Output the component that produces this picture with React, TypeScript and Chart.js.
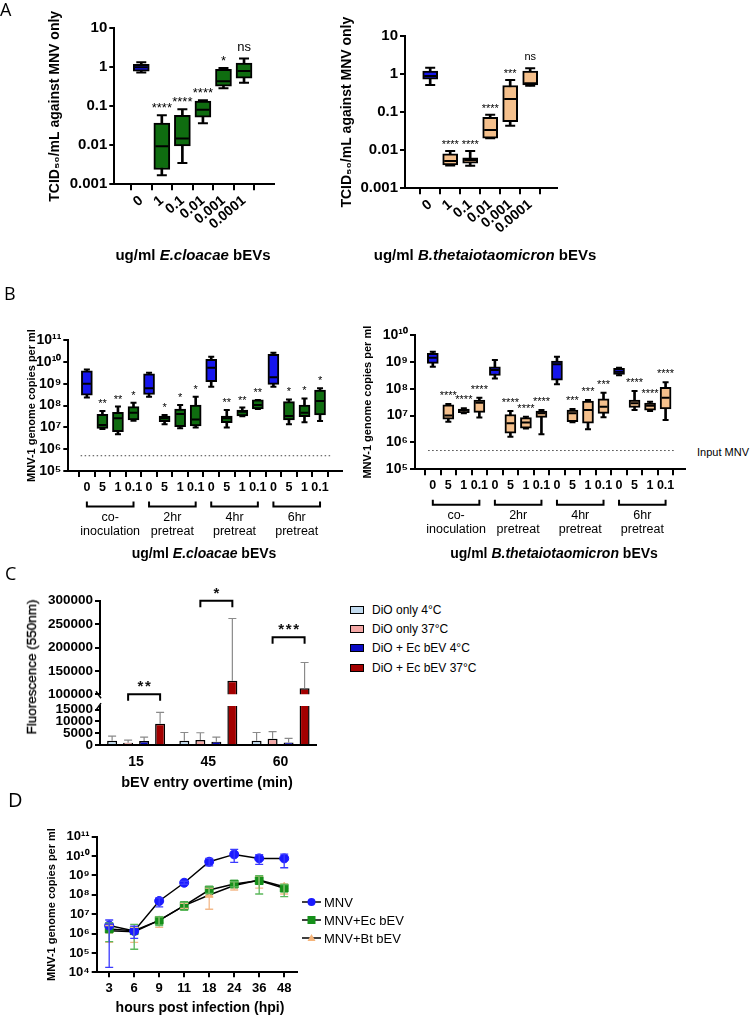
import React, { useEffect, useRef } from "react";
import { Chart, registerables } from "chart.js";

Chart.register(...registerables);

const FONT = "'Liberation Sans', Arial, Helvetica, sans-serif";
Chart.defaults.font.family = FONT;
Chart.defaults.color = "#000";

// ---------------- Panel A data ----------------
const aDoseLabels = ["0", "1", "0.1", "0.01", "0.001", "0.0001"];
const aTickValues = [0.001, 0.01, 0.1, 1, 10];
const aTickLabels = ["0.001", "0.01", "0.1", "1", "10"];

const aEcMin = [0.74, 0.0017, 0.0035, 0.037, 0.29, 0.4];
const aEcQ1 = [0.8, 0.0024, 0.0096, 0.053, 0.33, 0.53];
const aEcMed = [1.0, 0.0094, 0.0149, 0.082, 0.44, 0.8];
const aEcQ3 = [1.19, 0.037, 0.059, 0.137, 0.89, 1.29];
const aEcMax = [1.34, 0.059, 0.084, 0.143, 0.96, 1.67];
const aEcSig = ["", "****", "****", "****", "*", "ns"];

const aBtMin = [0.52, 0.004, 0.0039, 0.0206, 0.044, 0.49];
const aBtQ1 = [0.73, 0.0041, 0.0046, 0.0206, 0.056, 0.52];
const aBtMed = [0.89, 0.0052, 0.0055, 0.034, 0.22, 0.57];
const aBtQ3 = [1.2, 0.008, 0.0063, 0.073, 0.5, 1.2];
const aBtMax = [1.47, 0.0096, 0.0096, 0.085, 0.7, 1.42];
const aBtSig = ["", "****", "****", "****", "***", "ns"];

// ---------------- Panel B data ----------------
const bDoseLabels = ["0", "5", "1", "0.1", "0", "5", "1", "0.1", "0", "5", "1", "0.1", "0", "5", "1", "0.1"];
const bGroups = [["co-", "inoculation"], ["2hr", "pretreat"], ["4hr", "pretreat"], ["6hr", "pretreat"]];
const bInputMNV = 5e5;
const bLeftTickExp = [5, 6, 7, 8, 9, 10, 11];
const bRightTickExp = [5, 6, 7, 8, 9, 10];

const bEcMax = [4.5e9, 5.6e7, 8.9e7, 1.35e8, 3.2e9, 3.7e7, 1.05e8, 2.5e8, 1.7e10, 6.2e7, 8.0e7, 1.8e8, 2.6e10, 1.9e8, 2.1e8, 6.1e8];
const bEcQ3 = [3.9e9, 3.9e7, 4.9e7, 8.9e7, 2.8e9, 3.3e7, 6.9e7, 1.05e8, 1.3e10, 3.3e7, 6.2e7, 1.8e8, 2.2e10, 1.5e8, 1.05e8, 5.1e8];
const bEcMed = [1.0e9, 1.28e7, 2.6e7, 4.7e7, 6.1e8, 2.6e7, 4.1e7, 2.3e7, 5.4e9, 2.6e7, 5.2e7, 1.05e8, 1.95e9, 3.3e7, 4.7e7, 1.6e8];
const bEcQ1 = [3.0e8, 9.0e6, 6.3e6, 2.2e7, 3.2e8, 1.8e7, 1.07e7, 1.15e7, 1.24e9, 1.64e7, 3.3e7, 6.9e7, 9.3e8, 2.2e7, 3.1e7, 3.7e7];
const bEcMin = [2.3e8, 8.4e6, 4.8e6, 2.0e7, 2.5e8, 1.37e7, 9.0e6, 9.7e6, 7.3e8, 9.7e6, 3.2e7, 6.9e7, 7.3e8, 1.37e7, 1.7e7, 1.95e7];
const bEcSig = ["", "**", "**", "*", "", "*", "*", "*", "", "**", "**", "**", "", "*", "*", "*"];

const bBtMax = [2.4e9, 2.7e7, 1.86e7, 4.6e7, 1.17e9, 1.48e7, 9.1e6, 1.6e7, 1.56e9, 1.76e7, 3.8e7, 7.1e7, 6.1e8, 8.2e7, 3.3e7, 1.73e8];
const bBtQ3 = [2.1e9, 2.5e7, 1.76e7, 3.8e7, 6.6e8, 1.1e7, 8.4e6, 1.48e7, 1.08e9, 1.6e7, 3.5e7, 4.2e7, 5.7e8, 3.8e7, 2.9e7, 1.13e8];
const bBtMed = [1.43e9, 1.0e7, 1.53e7, 3.0e7, 5.0e8, 5.2e6, 5.5e6, 1.21e7, 8.1e8, 1.21e7, 1.6e7, 2.15e7, 4.3e8, 2.9e7, 2.3e7, 4.6e7];
const bBtQ1 = [8.8e8, 7.3e6, 1.29e7, 1.32e7, 3.1e8, 2.2e6, 3.4e6, 8.6e6, 2.1e8, 5.9e6, 5.2e6, 1.21e7, 3.4e8, 2.0e7, 1.6e7, 1.76e7];
const bBtMin = [6.6e8, 5.9e6, 1.21e7, 8.4e6, 2.4e8, 1.64e6, 3.3e6, 2.0e6, 1.46e8, 5.6e6, 3.1e6, 8.6e6, 3.2e8, 1.6e7, 1.48e7, 6.9e6];
const bBtSig = ["", "****", "****", "****", "", "****", "****", "****", "", "***", "***", "***", "", "****", "****", "****"];

// ---------------- Panel C data ----------------
const cTimes = ["15", "45", "60"];
const cSeries = ["DiO only 4°C", "DiO only 37°C", "DiO + Ec bEV 4°C", "DiO + Ec bEV 37°C"];
const cDio4 = [1800, 1800, 1800];
const cDio4Sd = [2000, 3500, 3500];
const cDio37 = [1000, 2100, 2600];
const cDio37Sd = [1100, 3100, 3100];
const cEc4 = [1700, 1400, 1100];
const cEc4Sd = [1600, 1900, 1700];
const cEc37 = [9000, 129000, 113000];
const cEc37Sd = [4800, 133000, 55000];
const cUpperTicks = [100000, 150000, 200000, 250000, 300000];
const cLowerTicks = [0, 5000, 10000, 15000];
const cSigText = ["**", "*", "***"];
const cSigLevel = [100000, 300000, 222000];

// ---------------- Panel D data ----------------
const dHours = ["3", "6", "9", "11", "18", "24", "36", "48"];
const dSeries = ["MNV", "MNV+Ec bEV", "MNV+Bt bEV"];
const dTickExp = [4, 5, 6, 7, 8, 9, 10, 11];
const dMnv = [2.6e6, 1.36e6, 4.8e7, 4.2e8, 5.1e9, 1.22e10, 7.6e9, 7.6e9];
const dMnvLo = [1.8e4, 5.7e5, 2.4e7, 3.5e8, 3.1e9, 4.7e9, 3.7e9, 2.5e9];
const dMnvHi = [5e6, 2.4e6, 7e7, 5e8, 7.6e9, 2.2e10, 1.2e10, 1.25e10];
const dEc = [1.72e6, 1.4e6, 4.8e6, 2.75e7, 1.77e8, 3.6e8, 5.4e8, 2.2e8];
const dEcLo = [3.8e5, 1.55e5, 2.6e6, 1.6e7, 1.2e8, 2.6e8, 1.1e8, 8e7];
const dEcHi = [3.6e6, 3e6, 7.5e6, 4.1e7, 2.6e8, 4.8e8, 9.8e8, 3.4e8];
const dBt = [1.4e6, 1.25e6, 4.8e6, 2.75e7, 9.8e7, 3.0e8, 5.8e8, 2.6e8];
const dBtLo = [3.5e5, 3.5e5, 2.1e6, 2.0e7, 1.8e7, 1.77e8, 2.2e8, 1.1e8];
const dBtHi = [2.6e6, 2.1e6, 7.5e6, 3.6e7, 2.2e8, 4.8e8, 9.5e8, 3.5e8];

// ---------------- styles ----------------
const BLUE = "#1616ee";
const GREEN = "#0f6d10";
const TAN = "#f5c08c";
const C_COLORS = ["#c3dbef", "#f3a7a5", "#0b0bc4", "#a30000"];

function sup(n: number) {
  const m = "⁰¹²³⁴⁵⁶⁷⁸⁹";
  return String(n).split("").map((c) => m[+c]).join("");
}
const powLabel = (e: number) => "10" + sup(e);

function frameLayout(f: any) {
  return {
    yAxisW: f.L - f.cl,
    padding: { left: 0, top: f.T - f.ct, right: f.cr - f.R, bottom: f.cb - f.B - f.xAxisH },
  };
}
const axisBorder = { display: true, color: "#000", width: 2 };
const tickGrid = (len: number) => ({ display: true, drawOnChartArea: false, drawTicks: true, tickLength: len, color: "#000", lineWidth: 2 });

function sigPlugin(labels: string[], tops: number[], font: string, off: number, nsOff: number) {
  return {
    id: "sig",
    afterDatasetsDraw(chart: any) {
      const { ctx, scales } = chart;
      ctx.save();
      ctx.font = font;
      ctx.fillStyle = "#000";
      ctx.textAlign = "center";
      ctx.textBaseline = "alphabetic";
      labels.forEach((t, i) => {
        if (!t) return;
        const px = scales.x.getPixelForValue(i);
        const py = scales.y.getPixelForValue(tops[i]) - (t === "ns" ? nsOff : off);
        ctx.fillText(t, px, py);
      });
      ctx.restore();
    },
  };
}

function groupPlugin(groups: string[][], font: string) {
  return {
    id: "groups",
    afterDraw(chart: any) {
      const { ctx, chartArea, scales } = chart;
      ctx.save();
      ctx.strokeStyle = "#000";
      ctx.lineWidth = 2;
      ctx.fillStyle = "#000";
      ctx.font = font;
      ctx.textAlign = "center";
      ctx.textBaseline = "middle";
      groups.forEach((g, k) => {
        const x1 = scales.x.getPixelForValue(4 * k);
        const x2 = scales.x.getPixelForValue(4 * k + 3);
        const y = chartArea.bottom + 35.5;
        ctx.beginPath();
        ctx.moveTo(x1, y - 5);
        ctx.lineTo(x1, y);
        ctx.lineTo(x2, y);
        ctx.lineTo(x2, y - 5);
        ctx.stroke();
        ctx.fillText(g[0], (x1 + x2) / 2, y + 11);
        ctx.fillText(g[1], (x1 + x2) / 2, y + 25);
      });
      ctx.restore();
    },
  };
}

function boxChartConfig(s: any) {
  const idx = s.med.map((_: number, i: number) => i);
  const lay = frameLayout(s.frame);
  const datasets: any[] = [
    {
      type: "line", data: idx.map((i: number) => ({ x: i, y: s.med[i] })), showLine: false,
      pointStyle: "line", pointRadius: s.boxW / 2 - 1.5, pointHoverRadius: s.boxW / 2 - 1.5,
      pointBorderWidth: 2, pointBorderColor: "#000", pointBackgroundColor: "#000", order: 0,
    },
    {
      type: "bar", data: idx.map((i: number) => ({ x: i, y: [s.q1[i], s.q3[i]] })),
      backgroundColor: s.colors, borderColor: "#000", borderWidth: 2, borderSkipped: false,
      grouped: false, barThickness: s.boxW, maxBarThickness: s.boxW, order: 1,
    },
    {
      type: "bar", data: idx.map((i: number) => ({ x: i, y: [s.min[i], s.max[i]] })),
      backgroundColor: "#000", borderWidth: 0, grouped: false, barThickness: 2, maxBarThickness: 2, order: 2,
    },
    {
      type: "line",
      data: [...idx.map((i: number) => ({ x: i, y: s.min[i] })), ...idx.map((i: number) => ({ x: i, y: s.max[i] }))],
      showLine: false, pointStyle: "line", pointRadius: s.capR, pointHoverRadius: s.capR,
      pointBorderWidth: 2, pointBorderColor: "#000", order: 2,
    },
  ];
  if (s.refLine) {
    datasets.push({
      type: "line", data: [{ x: s.refX[0], y: s.refLine }, { x: s.refX[1], y: s.refLine }],
      borderColor: "#444", borderWidth: 1, borderDash: [1.5, 2.5], pointRadius: 0, order: 3,
    });
  }
  const plugins: any[] = [sigPlugin(s.sig, s.max, s.sigFont, s.sigOff, s.nsOff)];
  if (s.groups) plugins.push(groupPlugin(s.groups, "12.5px " + FONT));
  return {
    type: "bar",
    data: { datasets },
    plugins,
    options: {
      responsive: true, maintainAspectRatio: false, animation: false, events: [],
      layout: { padding: lay.padding },
      plugins: { legend: { display: false }, tooltip: { enabled: false } },
      scales: {
        x: {
          type: "linear", min: s.xMin, max: s.xMax, bounds: "data",
          afterBuildTicks: (sc: any) => { sc.ticks = idx.map((i: number) => ({ value: i })); },
          afterFit: (sc: any) => { sc.height = s.frame.xAxisH; },
          ticks: {
            autoSkip: false, maxRotation: s.xRot, minRotation: s.xRot, padding: s.xPad,
            font: { size: s.xFont, weight: "bold" }, color: "#000",
            callback: (v: number) => s.xLabels[Math.round(v)],
          },
          grid: tickGrid(6), border: axisBorder,
        },
        y: {
          type: "logarithmic", min: s.yMin, max: s.yMax,
          afterBuildTicks: (sc: any) => { sc.ticks = s.yTicks.map((v: number) => ({ value: v })); },
          afterFit: (sc: any) => { sc.width = lay.yAxisW; },
          ticks: {
            autoSkip: false, padding: 2, font: { size: s.yFont, weight: "bold" }, color: "#000",
            callback: (_v: number, i: number) => s.yLabels[i],
          },
          grid: tickGrid(5), border: axisBorder,
          title: {
            display: true, text: s.yTitle, color: "#000",
            font: { size: s.yTitleSize, weight: "bold" }, padding: { top: s.yTitlePad, bottom: 0 },
          },
        },
      },
    },
  };
}

// ---------------- Panel C ----------------
const cMeans = [cDio4, cDio37, cEc4, cEc37];
const cSds = [cDio4Sd, cDio37Sd, cEc4Sd, cEc37Sd];

function cDatasets() {
  return cSeries.map((label, i) => ({
    type: "bar", label, data: cMeans[i], backgroundColor: C_COLORS[i], borderColor: "#000",
    borderWidth: 1.5, categoryPercentage: 0.886, barPercentage: 0.625,
  }));
}

const cErrPlugin = {
  id: "cerr",
  afterDatasetsDraw(chart: any) {
    const { ctx, chartArea: ca, scales } = chart;
    ctx.save();
    ctx.beginPath();
    ctx.rect(ca.left, ca.top - 1, ca.right - ca.left, ca.bottom - ca.top + 1);
    ctx.clip();
    ctx.strokeStyle = "#8a8a8a";
    ctx.lineWidth = 1.2;
    cMeans.forEach((vals, i) => {
      const meta = chart.getDatasetMeta(i);
      vals.forEach((v, j) => {
        const el = meta.data[j];
        const y0 = scales.y.getPixelForValue(v);
        const y1 = scales.y.getPixelForValue(v + cSds[i][j]);
        ctx.beginPath();
        ctx.moveTo(el.x, y0);
        ctx.lineTo(el.x, y1);
        ctx.moveTo(el.x - 4, y1);
        ctx.lineTo(el.x + 4, y1);
        ctx.stroke();
      });
    });
    ctx.restore();
  },
};

const cBracketPlugin = {
  id: "cbracket",
  afterDraw(chart: any) {
    const { ctx, scales, chartArea: ca } = chart;
    ctx.save();
    ctx.strokeStyle = "#000";
    ctx.lineWidth = 2;
    ctx.fillStyle = "#111";
    ctx.font = "bold 15px " + FONT;
    ctx.textAlign = "center";
    ctx.textBaseline = "middle";
    cSigText.forEach((t, k) => {
      const x1 = chart.getDatasetMeta(1).data[k].x;
      const x2 = chart.getDatasetMeta(3).data[k].x;
      const y = scales.y.getPixelForValue(cSigLevel[k]);
      ctx.beginPath();
      ctx.moveTo(x1, y + 6.5);
      ctx.lineTo(x1, y);
      ctx.lineTo(x2, y);
      ctx.lineTo(x2, y + 6.5);
      ctx.stroke();
      const chars = t.split("");
      const gap = 7.5;
      chars.forEach((c, n) => {
        ctx.fillText(c, (x1 + x2) / 2 + (n - (chars.length - 1) / 2) * gap, y - 7);
      });
    });
    // axis break mark
    ctx.lineWidth = 1.5;
    ctx.beginPath();
    ctx.moveTo(ca.left - 4, ca.bottom - 3);
    ctx.lineTo(ca.left + 1, ca.bottom + 4);
    ctx.stroke();
    ctx.restore();
  },
};

const cBreakLowerPlugin = {
  id: "cbreak",
  afterDraw(chart: any) {
    const { ctx, chartArea: ca } = chart;
    ctx.save();
    ctx.strokeStyle = "#000";
    ctx.lineWidth = 1.5;
    ctx.beginPath();
    ctx.moveTo(ca.left - 4, ca.top + 4);
    ctx.lineTo(ca.left + 1, ca.top - 3);
    ctx.stroke();
    ctx.restore();
  },
};

const cUpperFrame = { L: 100, T: 600.7, R: 316.7, B: 694.3, cl: 0, ct: 578, cr: 330, cb: 706.3, xAxisH: 0 };
const cLowerFrame = { L: 100, T: 706, R: 316.7, B: 745, cl: 0, ct: 696, cr: 330, cb: 775, xAxisH: 26 };

function cConfig(upper: boolean) {
  const f = upper ? cUpperFrame : cLowerFrame;
  const lay = frameLayout(f);
  const ticks = upper ? cUpperTicks : cLowerTicks;
  return {
    type: "bar",
    data: { labels: cTimes, datasets: cDatasets() },
    plugins: upper ? [cErrPlugin, cBracketPlugin] : [cErrPlugin, cBreakLowerPlugin],
    options: {
      responsive: true, maintainAspectRatio: false, animation: false, events: [],
      layout: { padding: lay.padding },
      plugins: { legend: { display: false }, tooltip: { enabled: false } },
      scales: {
        x: {
          type: "category", offset: true, display: !upper,
          afterFit: (sc: any) => { sc.height = f.xAxisH; },
          grid: { display: false, drawTicks: false }, border: axisBorder,
          ticks: { padding: 9, font: { size: 14, weight: "bold" }, color: "#000" },
        },
        y: {
          type: "linear", min: upper ? 100000 : 0, max: upper ? 300000 : 16500, bounds: "data",
          afterBuildTicks: (sc: any) => { sc.ticks = ticks.map((v) => ({ value: v })); },
          afterFit: (sc: any) => { sc.width = lay.yAxisW; },
          ticks: { autoSkip: false, padding: 2, font: { size: 13.5, weight: "bold" }, color: "#000", callback: (v: number) => String(v) },
          grid: tickGrid(5), border: axisBorder,
        },
      },
    },
  };
}

// ---------------- Panel D ----------------
const dFrame = { L: 96.7, T: 836.7, R: 296.7, B: 972.3, cl: 0, ct: 822, cr: 310, cb: 1000, xAxisH: 25 };
const dStyles = [
  { color: "#1a1aff", err: "#3b3bff", style: "circle", r: 4.5 },
  { color: "#15901a", err: "#5cb85c", style: "rect", r: 5.5 },
  { color: "#f5b47a", err: "#f3b98a", style: "triangle", r: 4.5 },
];
const dValues = [dMnv, dEc, dBt];
const dLows = [dMnvLo, dEcLo, dBtLo];
const dHighs = [dMnvHi, dEcHi, dBtHi];

const dErrPlugin = {
  id: "derr",
  afterDatasetsDraw(chart: any) {
    const { ctx, scales } = chart;
    ctx.save();
    ctx.lineWidth = 1.3;
    [2, 1, 0].forEach((k) => {
      const meta = chart.getDatasetMeta(k);
      ctx.strokeStyle = dStyles[k].err;
      meta.data.forEach((pt: any, j: number) => {
        const y1 = scales.y.getPixelForValue(dLows[k][j]);
        const y2 = scales.y.getPixelForValue(dHighs[k][j]);
        ctx.beginPath();
        ctx.moveTo(pt.x, y1);
        ctx.lineTo(pt.x, y2);
        ctx.moveTo(pt.x - 4, y1);
        ctx.lineTo(pt.x + 4, y1);
        ctx.moveTo(pt.x - 4, y2);
        ctx.lineTo(pt.x + 4, y2);
        ctx.stroke();
      });
    });
    ctx.restore();
  },
};

function dConfig() {
  const lay = frameLayout(dFrame);
  const yVals = dTickExp.map((e) => Math.pow(10, e));
  return {
    type: "line",
    data: {
      labels: dHours,
      datasets: dSeries.map((label, k) => ({
        label, data: dValues[k], borderColor: "#000", borderWidth: 1.5,
        pointStyle: dStyles[k].style, pointRadius: dStyles[k].r, pointHoverRadius: dStyles[k].r,
        pointBackgroundColor: dStyles[k].color, pointBorderColor: dStyles[k].color, pointBorderWidth: 1,
        order: k,
      })),
    },
    plugins: [dErrPlugin],
    options: {
      responsive: true, maintainAspectRatio: false, animation: false, events: [],
      layout: { padding: lay.padding },
      plugins: { legend: { display: false }, tooltip: { enabled: false } },
      scales: {
        x: {
          type: "category", offset: true,
          afterFit: (sc: any) => { sc.height = dFrame.xAxisH; },
          grid: tickGrid(5), border: axisBorder,
          ticks: { padding: 3, autoSkip: false, maxRotation: 0, font: { size: 13, weight: "bold" }, color: "#000" },
        },
        y: {
          type: "logarithmic", min: 1e4, max: 1e11,
          afterBuildTicks: (sc: any) => { sc.ticks = yVals.map((v) => ({ value: v })); },
          afterFit: (sc: any) => { sc.width = lay.yAxisW; },
          ticks: { autoSkip: false, padding: 2, font: { size: 13, weight: "bold" }, color: "#000", callback: (_v: number, i: number) => powLabel(dTickExp[i]) },
          grid: tickGrid(5), border: axisBorder,
          title: { display: true, text: "MNV-1 genome copies per ml", color: "#000", font: { size: 11, weight: "bold" }, padding: { top: 45.1, bottom: 0 } },
        },
      },
    },
  };
}

// ---------------- components ----------------
function ChartCanvas({ frame, config }: any) {
  const ref = useRef<HTMLCanvasElement>(null);
  useEffect(() => {
    const chart = new Chart(ref.current as HTMLCanvasElement, config());
    return () => chart.destroy();
  }, []);
  return (
    <div style={{ position: "absolute", left: frame.cl, top: frame.ct, width: frame.cr - frame.cl, height: frame.cb - frame.ct }}>
      <canvas ref={ref} />
    </div>
  );
}

function Txt({ cx, cy, size, bold, children, align = "center" }: any) {
  const w = 400;
  const left = align === "center" ? cx - w / 2 : cx;
  return (
    <div style={{ position: "absolute", left, top: cy - 10, width: w, height: 20, lineHeight: "20px", fontSize: size, fontWeight: bold ? 700 : 400, textAlign: align, whiteSpace: "nowrap" }}>
      {children}
    </div>
  );
}

const aLeftFrame = { L: 114.3, T: 28.3, R: 274, B: 184.3, cl: 0, ct: 0, cr: 288, cb: 248, xAxisH: 60 };
const aRightFrame = { L: 405, T: 36, R: 557.3, B: 188.3, cl: 292, ct: 0, cr: 571, cb: 252, xAxisH: 60 };
const bLeftFrame = { L: 68.3, T: 340, R: 341.7, B: 471, cl: 0, ct: 310, cr: 350, cb: 548, xAxisH: 72 };
const bRightFrame = { L: 415, T: 335, R: 685, B: 469.3, cl: 353, ct: 305, cr: 693, cb: 546, xAxisH: 72 };

const aCommon = {
  xLabels: aDoseLabels, yMin: 0.001, yMax: 10, yTicks: aTickValues, yLabels: aTickLabels,
  boxW: 16, capR: 5, yTitle: "TCID₅₀/mL against MNV only", yTitleSize: 14, yTitlePad: 46.6,
  xRot: 40, xPad: 2, xFont: 14, yFont: 15, sigFont: "13px " + FONT, sigOff: 3, nsOff: 8,
};

const bColors = (c: string) => bDoseLabels.map((_, i) => (i % 4 === 0 ? BLUE : c));

const configs = {
  aLeft: () => boxChartConfig({
    ...aCommon, frame: aLeftFrame, xMin: -0.665, xMax: 5.811,
    min: aEcMin, q1: aEcQ1, med: aEcMed, q3: aEcQ3, max: aEcMax, sig: aEcSig,
    colors: aDoseLabels.map((_, i) => (i === 0 ? BLUE : GREEN)),
  }),
  aRight: () => boxChartConfig({
    ...aCommon, frame: aRightFrame, xMin: -0.625, xMax: 5.721, boxW: 15, yTitlePad: 46.6,
    sigFont: "11px " + FONT,
    min: aBtMin, q1: aBtQ1, med: aBtMed, q3: aBtQ3, max: aBtMax, sig: aBtSig,
    colors: aDoseLabels.map((_, i) => (i === 0 ? BLUE : TAN)),
  }),
  bLeft: () => boxChartConfig({
    frame: bLeftFrame, xLabels: bDoseLabels, xMin: -0.645, xMax: 15.844,
    yMin: 1e5, yMax: 1e11, yTicks: bLeftTickExp.map((e) => Math.pow(10, e)), yLabels: bLeftTickExp.map(powLabel),
    boxW: 11, capR: 3, yTitle: "MNV-1 genome copies per ml", yTitleSize: 11, yTitlePad: 25.4,
    xRot: 0, xPad: 3, xFont: 12.5, yFont: 14, sigFont: "11px " + FONT, sigOff: 4, nsOff: 6,
    min: bEcMin, q1: bEcQ1, med: bEcMed, q3: bEcQ3, max: bEcMax, sig: bEcSig, colors: bColors(GREEN),
    refLine: bInputMNV, refX: [-0.4, 15.7], groups: bGroups,
  }),
  bRight: () => boxChartConfig({
    frame: bRightFrame, xLabels: bDoseLabels, xMin: -0.604, xMax: 15.707,
    yMin: 1e5, yMax: 1e10, yTicks: bRightTickExp.map((e) => Math.pow(10, e)), yLabels: bRightTickExp.map(powLabel),
    boxW: 11, capR: 3, yTitle: "MNV-1 genome copies per ml", yTitleSize: 11, yTitlePad: 8.4,
    xRot: 0, xPad: 3, xFont: 12.5, yFont: 14, sigFont: "11px " + FONT, sigOff: 5, nsOff: 6,
    min: bBtMin, q1: bBtQ1, med: bBtMed, q3: bBtQ3, max: bBtMax, sig: bBtSig, colors: bColors(TAN),
    refLine: bInputMNV, refX: [-0.3, 15.6], groups: bGroups,
  }),
};

const letterStyle = (left: number, top: number, size: number): any => ({
  position: "absolute", left, top, fontSize: size, lineHeight: "20px", fontFamily: "'Open Sans', 'Liberation Sans', sans-serif",
});

export default function App() {
  return (
    <div style={{ position: "absolute", left: 0, top: 0, width: 750, height: 1015, background: "#fff", fontFamily: FONT, color: "#000", overflow: "hidden" }}>
      <ChartCanvas frame={aLeftFrame} config={configs.aLeft} />
      <ChartCanvas frame={aRightFrame} config={configs.aRight} />
      <Txt cx={193} cy={255} size={15} bold>ug/ml <i>E.cloacae</i> bEVs</Txt>
      <Txt cx={485} cy={255} size={15} bold>ug/ml <i>B.thetaiotaomicron</i> bEVs</Txt>

      <ChartCanvas frame={bLeftFrame} config={configs.bLeft} />
      <ChartCanvas frame={bRightFrame} config={configs.bRight} />
      <Txt cx={697} cy={451.7} size={11} align="left">Input MNV</Txt>
      <Txt cx={204} cy={553} size={14} bold>ug/ml <i>E.cloacae</i> bEVs</Txt>
      <Txt cx={554} cy={553} size={14} bold>ug/ml <i>B.thetaiotaomicron</i> bEVs</Txt>

      <ChartCanvas frame={cLowerFrame} config={() => cConfig(false)} />
      <ChartCanvas frame={cUpperFrame} config={() => cConfig(true)} />
      <div style={{ position: "absolute", left: 31.7, top: 666.7, transform: "translate(-50%, -50%) rotate(-90deg)", whiteSpace: "nowrap", fontSize: 13.5, lineHeight: "16px", color: "#000", WebkitTextStroke: "0.35px #000" }}>
        Fluorescence (550nm)
      </div>
      <Txt cx={207} cy={781.7} size={14.5} bold>bEV entry overtime (min)</Txt>
      {cSeries.map((s, i) => (
        <div key={s} style={{ position: "absolute", left: 350, top: 603 + i * 19.2, height: 14, display: "flex", alignItems: "center", fontSize: 12, whiteSpace: "nowrap" }}>
          <span style={{ display: "inline-block", width: 12, height: 6, border: "1.5px solid #000", background: C_COLORS[i], marginRight: 8 }} />
          <span>{s}</span>
        </div>
      ))}

      <ChartCanvas frame={dFrame} config={dConfig} />
      <Txt cx={200} cy={1006.7} size={14} bold>hours post infection (hpi)</Txt>
      {dSeries.map((s, k) => (
        <div key={s} style={{ position: "absolute", left: 302, top: 895 + k * 18, height: 14, display: "flex", alignItems: "center", fontSize: 13, whiteSpace: "nowrap" }}>
          <svg width="19" height="12" style={{ marginRight: 3 }}>
            <line x1="0" y1="6" x2="19" y2="6" stroke="#000" strokeWidth="1.5" />
            {k === 0 && <circle cx="9.5" cy="6" r="4" fill={dStyles[0].color} />}
            {k === 1 && <rect x="5.5" y="2" width="8" height="8" fill={dStyles[1].color} />}
            {k === 2 && <polygon points="9.5,2 13.5,9 5.5,9" fill={dStyles[2].color} />}
          </svg>
          <span>{s}</span>
        </div>
      ))}

      <div style={letterStyle(0, -1, 18)}>A</div>
      <div style={letterStyle(4, 283, 18)}>B</div>
      <div style={letterStyle(5, 563, 18)}>C</div>
      <div style={letterStyle(8, 790, 20)}>D</div>
    </div>
  );
}
